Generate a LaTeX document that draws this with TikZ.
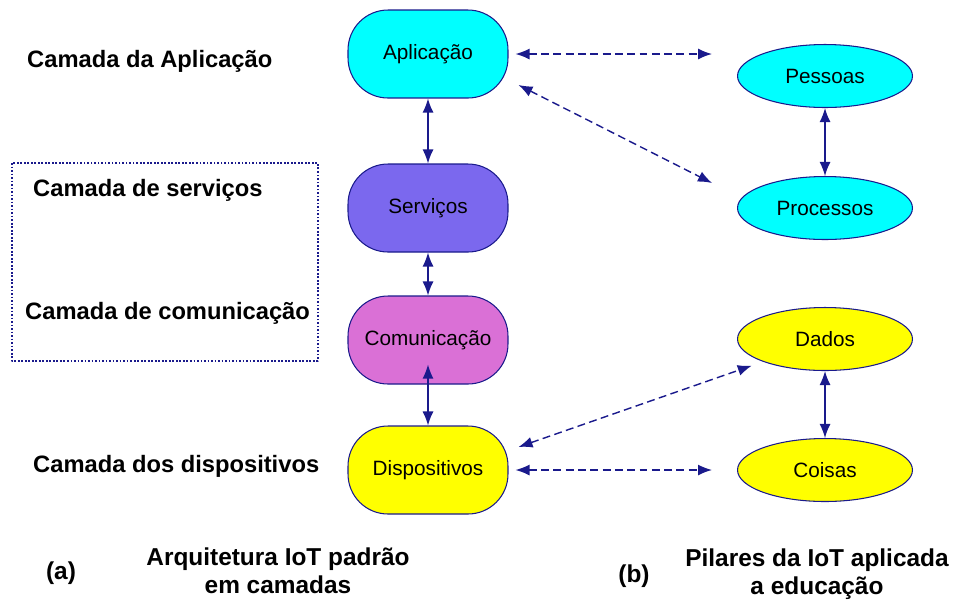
\documentclass[tikz,border=0pt]{standalone}
\usepackage{fontspec}
\setmainfont{Liberation Sans}
\usetikzlibrary{shapes.geometric,arrows.meta}
\definecolor{azulesc}{HTML}{1A1A8C}
\definecolor{ciano}{HTML}{00FFFF}
\definecolor{amarelo}{HTML}{FFFF00}
\definecolor{servcor}{HTML}{7B68EE}
\definecolor{comcor}{HTML}{DA70D6}
\tikzset{
  camada/.style={draw=azulesc, line width=0.6pt, rounded corners=0.8cm,
    minimum width=3.2cm, minimum height=1.76cm, font=\fontsize{11.8}{13}\selectfont},
  pilar/.style={draw=azulesc, line width=0.6pt, ellipse,
    minimum width=3.5cm, minimum height=1.26cm, font=\fontsize{11.8}{13}\selectfont},
  rotulo/.style={font=\bfseries\fontsize{13.5}{16}\selectfont, align=center},
  legenda/.style={font=\bfseries\fontsize{13.9}{16}\selectfont, align=center},
  duplo/.style={azulesc, line width=0.8pt, {Latex[length=2.8mm,width=2.2mm]}-{Latex[length=2.8mm,width=2.2mm]}},
  tracejado/.style={duplo, dash pattern=on 4.5pt off 2.5pt},
}
\begin{document}
\begin{tikzpicture}[x=0.02cm, y=-0.02cm, line join=round]
\useasboundingbox (0,0) rectangle (953,603);
% camadas (a)
\node[camada, fill=ciano]   (aplic) at (428,54)  {Aplicação};
\node[camada, fill=servcor] (serv)  at (428,208) {Serviços};
\node[camada, fill=comcor]  (comun) at (428,340) {Comunicação};
\node[camada, fill=amarelo] (disp)  at (428,470) {Dispositivos};
% pilares (b)
\node[pilar, fill=ciano]   (pessoas)   at (825,76)  {Pessoas};
\node[pilar, fill=ciano]   (processos) at (825,208) {Processos};
\node[pilar, fill=amarelo] (dados)     at (825,339) {Dados};
\node[pilar, fill=amarelo] (coisas)    at (825,470) {Coisas};
% rotulos
\node[rotulo, anchor=west] (ca) at (21,61)  {Camada da Aplicação};
\node[rotulo, anchor=west] (cs) at (27,190) {Camada de serviços};
\node[rotulo, anchor=west] (cc) at (19,313) {Camada de comunicação};
\node[rotulo, anchor=west] (cd) at (27,466) {Camada dos dispositivos};
\draw[azulesc, line width=0.6pt, dash pattern=on 1pt off 1pt] (12,163) rectangle (318,361);
\node[legenda] (a)  at (61,573)  {(a)};
\node[legenda] (ta) at (278,571) {Arquitetura IoT padrão\\em camadas};
\node[legenda] (b)  at (634,576) {(b)};
\node[legenda] (tb) at (817,574) {Pilares da IoT aplicada\\a educação};
% ligacoes
\draw[duplo] (aplic) -- (serv);
\draw[duplo] (serv) -- (comun);
\draw[duplo, shorten <=-0.4cm] (comun) -- (disp);
\draw[duplo] (pessoas) -- (processos);
\draw[duplo] (dados) -- (coisas);
\draw[tracejado, shorten <=0.14cm, shorten >=0.5cm] (aplic.east) -- (aplic.east -| pessoas.west);
\draw[tracejado] ([shift={(10,31)}]aplic.east) -- ([shift={(-25,-25)}]processos.west);
\draw[tracejado] ([shift={(10,-23)}]disp.east) -- ([shift={(-11,4)}]dados.south west);
\draw[tracejado, shorten <=0.14cm, shorten >=0.5cm] (disp.east) -- (coisas.west);
\end{tikzpicture}
\end{document}
